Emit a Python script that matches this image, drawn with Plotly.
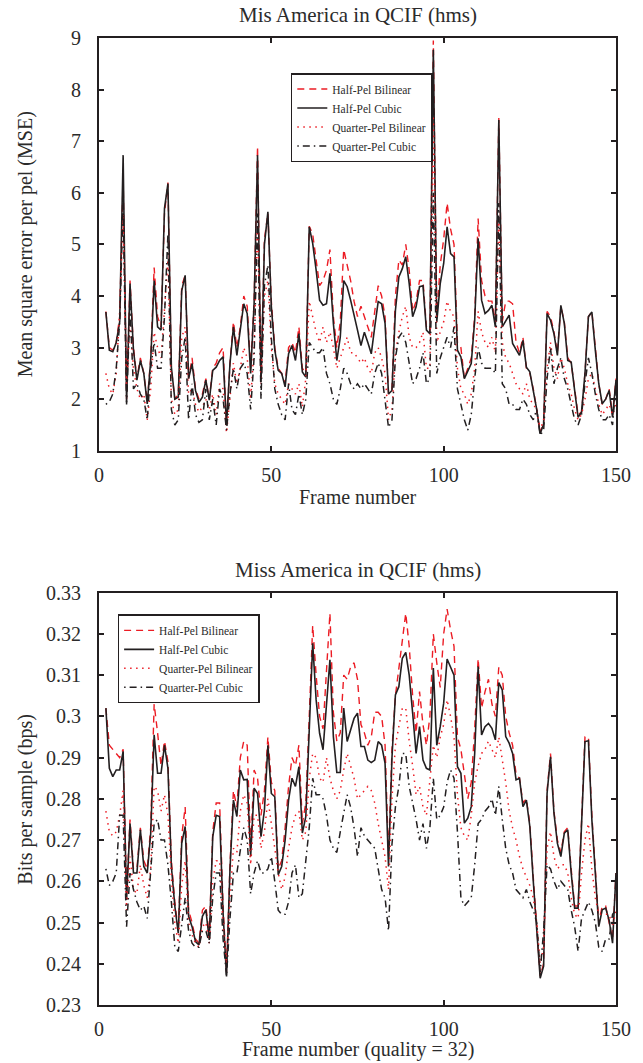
import plotly.graph_objects as go

frames = list(range(2, 151))

# ---- Top chart: MSE per pel ----
mse_half_bilinear = [
    3.70, 3.00, 2.95, 3.10, 3.60, 6.30, 2.00, 4.30, 3.00, 2.40,
    2.80, 2.50, 1.95, 2.80, 4.55, 3.60, 3.40, 5.60, 6.20, 2.60,
    2.00, 2.10, 4.20, 4.40, 2.40, 2.80, 2.20, 2.00, 2.10, 2.40,
    2.00, 2.60, 2.70, 2.90, 3.00, 1.50, 2.70, 3.50, 3.00, 3.40,
    4.00, 3.80, 2.60, 3.90, 6.90, 2.40, 5.10, 5.60, 3.90, 3.00,
    2.60, 2.50, 2.30, 3.00, 3.10, 2.90, 3.40, 2.60, 2.50, 5.35,
    5.20, 4.70, 4.20, 4.30, 4.50, 4.90, 3.60, 3.00, 3.50, 4.90,
    4.60, 4.30, 3.90, 3.60, 3.80, 3.60, 3.40, 3.20, 3.70, 4.20,
    4.00, 3.60, 2.10, 2.20, 4.00, 4.70, 4.60, 5.00, 4.50, 3.70,
    3.90, 4.30, 4.30, 3.40, 3.30, 8.95, 3.60, 4.60, 5.10, 5.80,
    5.30, 5.00, 3.10, 3.00, 2.40, 2.60, 2.80, 3.60, 5.50, 4.30,
    4.00, 3.90, 3.90, 3.50, 7.45, 3.50, 3.90, 3.90, 3.85, 3.10,
    2.90, 3.20, 2.60, 2.50, 2.20, 1.80, 1.35, 1.55, 3.70, 3.60,
    3.30, 2.90, 3.80, 3.50, 2.80, 2.70, 2.20, 1.70, 1.75, 2.50,
    3.60, 3.70, 3.00, 2.30, 1.90, 2.00, 2.20, 1.70, 2.40,
]
mse_half_cubic = [
    3.69, 2.95, 2.92, 3.10, 3.50, 6.73, 1.94, 4.24, 2.95, 2.37,
    2.75, 2.50, 1.91, 2.75, 4.30, 3.40, 3.34, 5.70, 6.18, 2.62,
    2.00, 2.04, 4.10, 4.40, 2.40, 2.69, 2.17, 1.94, 2.04, 2.37,
    1.98, 2.56, 2.62, 2.75, 2.82, 1.50, 2.69, 3.40, 2.85, 3.34,
    3.85, 3.66, 2.50, 3.85, 6.73, 2.33, 5.00, 5.63, 3.80, 2.95,
    2.56, 2.50, 2.24, 2.88, 3.04, 2.75, 3.27, 2.53, 2.43, 5.34,
    5.02, 4.50, 3.92, 3.82, 3.85, 4.44, 3.47, 2.75, 3.20, 4.30,
    4.18, 3.92, 3.60, 3.34, 3.04, 3.30, 3.10, 2.88, 3.40, 3.89,
    3.85, 3.47, 2.10, 2.17, 3.72, 4.37, 4.53, 4.76, 4.24, 3.60,
    3.79, 4.18, 4.20, 3.34, 3.27, 8.77, 3.50, 4.24, 4.63, 5.34,
    4.82, 4.76, 2.95, 2.82, 2.40, 2.53, 2.69, 3.53, 5.12, 3.92,
    3.66, 3.72, 3.82, 3.40, 7.41, 3.40, 3.53, 3.63, 3.08, 2.95,
    2.85, 3.14, 2.62, 2.53, 2.17, 1.80, 1.33, 1.52, 3.66, 3.53,
    3.27, 2.85, 3.82, 3.47, 2.75, 2.72, 2.17, 1.65, 1.75, 2.50,
    3.60, 3.69, 2.95, 2.30, 1.91, 2.00, 2.17, 1.65, 2.37,
]
mse_quarter_bilinear = [
    2.50, 2.20, 2.10, 2.50, 3.70, 5.60, 2.30, 3.50, 2.60, 2.20,
    2.00, 2.10, 1.60, 2.20, 3.30, 3.00, 2.80, 3.80, 4.70, 2.00,
    1.70, 1.80, 3.20, 3.40, 2.10, 2.20, 1.90, 1.75, 1.85, 2.00,
    1.80, 2.10, 1.70, 2.30, 2.20, 1.35, 2.10, 2.70, 2.30, 2.60,
    3.00, 2.80, 2.00, 3.00, 5.50, 2.30, 4.00, 4.30, 3.00, 2.30,
    2.10, 2.00, 1.90, 2.30, 2.20, 2.10, 2.30, 1.85, 2.40, 3.90,
    3.60, 3.30, 3.10, 3.40, 3.10, 3.30, 3.00, 2.60, 2.80, 3.00,
    3.20, 2.90, 2.90, 2.80, 2.70, 2.80, 2.60, 2.50, 2.90, 3.00,
    2.80, 2.50, 1.60, 1.80, 2.90, 3.30, 3.60, 3.80, 3.20, 3.00,
    3.00, 3.10, 3.30, 2.60, 2.60, 7.50, 3.10, 3.30, 3.50, 3.90,
    3.70, 3.60, 2.60, 2.20, 2.10, 1.90, 2.10, 2.60, 3.70, 3.30,
    3.10, 3.00, 3.20, 2.90, 5.50, 3.10, 2.80, 2.70, 2.50, 2.30,
    2.20, 2.10, 2.30, 2.00, 1.90, 1.80, 1.40, 1.60, 2.60, 3.10,
    2.60, 2.40, 2.80, 2.60, 2.30, 2.10, 1.80, 1.60, 1.70, 2.00,
    2.40, 2.50, 2.20, 1.90, 1.70, 1.80, 1.90, 1.70, 1.90,
]
mse_quarter_cubic = [
    1.90, 1.95, 2.10, 2.60, 3.50, 5.80, 1.90, 3.80, 2.20, 2.30,
    2.10, 2.00, 1.60, 2.60, 3.10, 2.60, 2.60, 3.60, 5.20, 1.80,
    1.50, 1.60, 2.80, 3.20, 1.60, 2.30, 1.70, 1.55, 1.60, 2.20,
    1.60, 2.00, 1.50, 2.20, 2.00, 1.40, 2.10, 2.60, 2.20, 2.60,
    2.70, 2.50, 1.80, 2.80, 5.60, 2.00, 4.20, 4.60, 3.20, 2.20,
    1.90, 1.70, 1.60, 2.30, 1.80, 1.70, 2.10, 1.70, 2.00, 3.10,
    3.00, 2.90, 2.90, 3.00, 2.50, 2.30, 2.00, 1.90, 2.20, 2.60,
    2.50, 2.30, 2.20, 2.30, 2.20, 2.30, 2.20, 2.10, 2.50, 2.70,
    2.50, 2.00, 1.45, 1.60, 2.80, 3.20, 3.30, 3.10, 2.70, 2.30,
    2.40, 2.60, 2.90, 2.30, 2.40, 6.00, 2.50, 2.80, 3.00, 3.20,
    3.00, 3.40, 2.20, 1.90, 1.60, 1.40, 1.70, 2.40, 3.00, 2.70,
    2.60, 2.60, 2.60, 2.50, 5.80, 2.30, 2.20, 1.90, 1.90, 1.80,
    1.80, 2.00, 1.90, 1.70, 1.60, 1.80, 1.30, 1.40, 2.40, 3.00,
    2.30, 2.60, 2.80, 2.40, 2.20, 1.90, 1.60, 1.50, 1.70, 2.30,
    2.80, 2.50, 2.10, 1.80, 1.60, 1.60, 1.70, 1.50, 2.30,
]

# ---- Bottom chart: bits per sample ----
bps_half_bilinear = [
    0.302, 0.293, 0.292, 0.291, 0.290, 0.292, 0.257, 0.275, 0.263, 0.263,
    0.273, 0.265, 0.263, 0.273, 0.303, 0.296, 0.288, 0.294, 0.289, 0.265,
    0.255, 0.248, 0.271, 0.278, 0.253, 0.250, 0.246, 0.245, 0.253, 0.254,
    0.247, 0.272, 0.279, 0.279, 0.254, 0.238, 0.264, 0.282, 0.278, 0.290,
    0.294, 0.293, 0.268, 0.287, 0.285, 0.276, 0.282, 0.295, 0.284, 0.282,
    0.263, 0.265, 0.273, 0.283, 0.290, 0.288, 0.293, 0.274, 0.279, 0.300,
    0.322, 0.310, 0.300, 0.297, 0.310, 0.325, 0.301, 0.294, 0.296, 0.310,
    0.309, 0.312, 0.313, 0.309, 0.298, 0.296, 0.293, 0.295, 0.301, 0.301,
    0.300, 0.293, 0.266, 0.292, 0.305, 0.312, 0.318, 0.325, 0.317, 0.305,
    0.296, 0.306, 0.298, 0.293, 0.300, 0.320, 0.313, 0.307, 0.320, 0.326,
    0.321, 0.317, 0.295, 0.292, 0.286, 0.280, 0.284, 0.297, 0.314, 0.302,
    0.306, 0.309, 0.303, 0.300, 0.312, 0.310, 0.300, 0.296, 0.293, 0.286,
    0.285, 0.279, 0.280, 0.274, 0.261, 0.249, 0.237, 0.240, 0.282, 0.291,
    0.277, 0.270, 0.267, 0.272, 0.273, 0.263, 0.254, 0.254, 0.274, 0.295,
    0.295, 0.276, 0.263, 0.250, 0.254, 0.254, 0.250, 0.246, 0.262,
]
bps_half_cubic = [
    0.3020, 0.2874, 0.2854, 0.2870, 0.2870, 0.2915, 0.2555, 0.2740, 0.2620, 0.2620,
    0.2725, 0.2636, 0.2620, 0.2716, 0.2955, 0.2862, 0.2862, 0.2930, 0.2874, 0.2636,
    0.2540, 0.2474, 0.2692, 0.2733, 0.2515, 0.2490, 0.2454, 0.2446, 0.2515, 0.2531,
    0.2458, 0.2708, 0.2760, 0.2757, 0.2523, 0.2369, 0.2628, 0.2797, 0.2757, 0.2870,
    0.2846, 0.2847, 0.2660, 0.2826, 0.2813, 0.2708, 0.2773, 0.2930, 0.2813, 0.2805,
    0.2616, 0.2636, 0.2700, 0.2797, 0.2850, 0.2830, 0.2878, 0.2717, 0.2757, 0.2967,
    0.3177, 0.3040, 0.2959, 0.2919, 0.3024, 0.3137, 0.2951, 0.2864, 0.2864, 0.3020,
    0.2939, 0.2967, 0.2995, 0.3008, 0.2927, 0.2927, 0.2894, 0.2888, 0.2894, 0.2939,
    0.2930, 0.2886, 0.2636, 0.2900, 0.3052, 0.3072, 0.3141, 0.3155, 0.3100, 0.3008,
    0.2910, 0.2975, 0.2894, 0.2874, 0.2870, 0.3117, 0.2930, 0.2975, 0.3032, 0.3139,
    0.3120, 0.3100, 0.2878, 0.2862, 0.2741, 0.2753, 0.2781, 0.2910, 0.3121, 0.2955,
    0.2975, 0.2983, 0.2971, 0.2943, 0.3082, 0.3064, 0.2951, 0.2935, 0.2910, 0.2846,
    0.2850, 0.2781, 0.2797, 0.2733, 0.2600, 0.2480, 0.2365, 0.2394, 0.2813, 0.2902,
    0.2765, 0.2692, 0.2660, 0.2717, 0.2725, 0.2620, 0.2535, 0.2535, 0.2733, 0.2939,
    0.2941, 0.2749, 0.2620, 0.2490, 0.2531, 0.2535, 0.2506, 0.2450, 0.2620,
]
bps_quarter_bilinear = [
    0.277, 0.272, 0.271, 0.272, 0.276, 0.282, 0.253, 0.266, 0.258, 0.257,
    0.264, 0.259, 0.256, 0.263, 0.283, 0.282, 0.277, 0.281, 0.276, 0.261,
    0.250, 0.245, 0.259, 0.265, 0.250, 0.247, 0.245, 0.244, 0.249, 0.250,
    0.245, 0.260, 0.265, 0.265, 0.249, 0.240, 0.256, 0.268, 0.267, 0.277,
    0.281, 0.279, 0.264, 0.276, 0.276, 0.268, 0.272, 0.280, 0.274, 0.268,
    0.262, 0.258, 0.261, 0.268, 0.273, 0.276, 0.277, 0.270, 0.272, 0.285,
    0.291, 0.290, 0.285, 0.284, 0.290, 0.285, 0.282, 0.280, 0.282, 0.287,
    0.291, 0.288, 0.285, 0.280, 0.281, 0.282, 0.283, 0.282, 0.279, 0.274,
    0.270, 0.266, 0.258, 0.280, 0.293, 0.298, 0.302, 0.302, 0.294, 0.288,
    0.281, 0.283, 0.278, 0.276, 0.285, 0.293, 0.290, 0.295, 0.298, 0.304,
    0.300, 0.295, 0.281, 0.273, 0.271, 0.270, 0.276, 0.284, 0.288, 0.291,
    0.292, 0.294, 0.292, 0.290, 0.295, 0.290, 0.284, 0.277, 0.273, 0.270,
    0.266, 0.263, 0.261, 0.259, 0.256, 0.250, 0.240, 0.244, 0.268, 0.272,
    0.266, 0.263, 0.264, 0.264, 0.262, 0.256, 0.252, 0.251, 0.262, 0.270,
    0.274, 0.263, 0.256, 0.252, 0.252, 0.252, 0.252, 0.249, 0.253,
]
bps_quarter_cubic = [
    0.263, 0.259, 0.260, 0.262, 0.276, 0.276, 0.249, 0.262, 0.258, 0.255,
    0.253, 0.254, 0.251, 0.262, 0.274, 0.275, 0.270, 0.270, 0.264, 0.255,
    0.244, 0.243, 0.250, 0.256, 0.248, 0.245, 0.244, 0.244, 0.248, 0.248,
    0.245, 0.256, 0.262, 0.262, 0.246, 0.237, 0.251, 0.262, 0.262, 0.268,
    0.273, 0.270, 0.257, 0.262, 0.265, 0.262, 0.262, 0.263, 0.266, 0.260,
    0.253, 0.252, 0.252, 0.255, 0.262, 0.264, 0.256, 0.257, 0.265, 0.273,
    0.285, 0.281, 0.281, 0.280, 0.276, 0.270, 0.268, 0.267, 0.272, 0.277,
    0.281, 0.278, 0.273, 0.266, 0.273, 0.271, 0.270, 0.269, 0.268, 0.263,
    0.258, 0.256, 0.248, 0.269, 0.278, 0.283, 0.291, 0.291, 0.283, 0.279,
    0.275, 0.270, 0.274, 0.268, 0.273, 0.285, 0.275, 0.276, 0.278, 0.284,
    0.287, 0.285, 0.272, 0.256, 0.254, 0.255, 0.256, 0.264, 0.274, 0.275,
    0.277, 0.278, 0.280, 0.276, 0.283, 0.275, 0.268, 0.264, 0.262, 0.258,
    0.257, 0.256, 0.258, 0.255, 0.253, 0.250, 0.238, 0.248, 0.264, 0.263,
    0.260, 0.258, 0.260, 0.259, 0.258, 0.253, 0.249, 0.243, 0.251, 0.253,
    0.255, 0.253, 0.250, 0.244, 0.243, 0.246, 0.246, 0.252, 0.253,
]

series_names = ["Half-Pel Bilinear", "Half-Pel Cubic", "Quarter-Pel Bilinear", "Quarter-Pel Cubic"]
x_tickvals = [0, 50, 100, 150]
mse_tickvals = [1, 2, 3, 4, 5, 6, 7, 8, 9]
bps_tickvals = [0.23, 0.24, 0.25, 0.26, 0.27, 0.28, 0.29, 0.30, 0.31, 0.32, 0.33]
bps_ticktext = ["0.23", "0.24", "0.25", "0.26", "0.27", "0.28", "0.29", "0.3", "0.31", "0.32", "0.33"]

RED = "#ec1c24"
BLK = "#231f20"
TXT = "#2b2b2b"
FONT = "Liberation Serif"
styles = [
    dict(color=RED, width=1.4, dash="7px,5px"),
    dict(color=BLK, width=1.6, dash="solid"),
    dict(color=RED, width=1.5, dash="1.5px,4.5px"),
    dict(color=BLK, width=1.5, dash="1.5px,4px,7px,4px"),
]

fig = go.Figure()
top = [mse_half_bilinear, mse_half_cubic, mse_quarter_bilinear, mse_quarter_cubic]
bot = [bps_half_bilinear, bps_half_cubic, bps_quarter_bilinear, bps_quarter_cubic]
for name, ys, st in zip(series_names, top, styles):
    fig.add_trace(go.Scatter(x=frames, y=ys, mode="lines", name=name, line=st,
                             xaxis="x", yaxis="y", legend="legend"))
for name, ys, st in zip(series_names, bot, styles):
    fig.add_trace(go.Scatter(x=frames, y=ys, mode="lines", name=name, line=st,
                             xaxis="x2", yaxis="y2", legend="legend2"))

axis_common = dict(showline=True, mirror="ticks", linecolor=BLK, linewidth=2,
                   ticks="inside", ticklen=5, tickwidth=1.5, tickcolor=BLK,
                   showgrid=False, zeroline=False,
                   tickfont=dict(family=FONT, size=20, color=TXT))

legend_common = dict(bgcolor="white", bordercolor=BLK, borderwidth=1.5,
                     font=dict(family=FONT, size=11.5, color=TXT),
                     itemwidth=30, tracegroupgap=0, xanchor="left", yanchor="top")

fig.update_layout(
    width=643, height=1063, autosize=False,
    margin=dict(l=99, r=21, t=38, b=58),
    paper_bgcolor="white", plot_bgcolor="white",
    xaxis=dict(domain=[0, 1], range=[0, 150], tickvals=x_tickvals, anchor="y",
               ticklabelstandoff=5, **axis_common),
    yaxis=dict(domain=[0.5731, 1], range=[1, 9], tickvals=mse_tickvals, anchor="x",
               ticklabelstandoff=12, **axis_common),
    xaxis2=dict(domain=[0, 1], range=[0, 150], tickvals=x_tickvals, anchor="y2",
                ticklabelstandoff=5, **axis_common),
    yaxis2=dict(domain=[0, 0.4264], range=[0.23, 0.33], tickvals=bps_tickvals,
                ticktext=bps_ticktext, anchor="x2", ticklabelstandoff=12, **axis_common),
    legend=dict(x=0.371, y=0.9638, **legend_common),
    legend2=dict(x=0.036, y=0.404, **legend_common),
    showlegend=True,
)

ann_font = dict(family=FONT, size=20, color=TXT)
title_font = dict(family=FONT, size=21, color=TXT)
annotations = [
    dict(text="Mis America in QCIF (hms)", x=0.5, y=1.0238, font=title_font),
    dict(text="Frame number", x=0.5, y=0.5253, font=ann_font),
    dict(text="Mean square error per pel (MSE)", x=-0.1415, y=0.7866, textangle=-90, font=ann_font),
    dict(text="Miss America in QCIF (hms)", x=0.5, y=0.4498, font=title_font),
    dict(text="Frame number (quality = 32)", x=0.5, y=-0.0465, font=ann_font),
    dict(text="Bits per sample (bps)", x=-0.1415, y=0.2132, textangle=-90, font=ann_font),
]
for a in annotations:
    fig.add_annotation(xref="paper", yref="paper", showarrow=False,
                       xanchor="center", yanchor="middle", **a)

fig.write_html("out.html")
